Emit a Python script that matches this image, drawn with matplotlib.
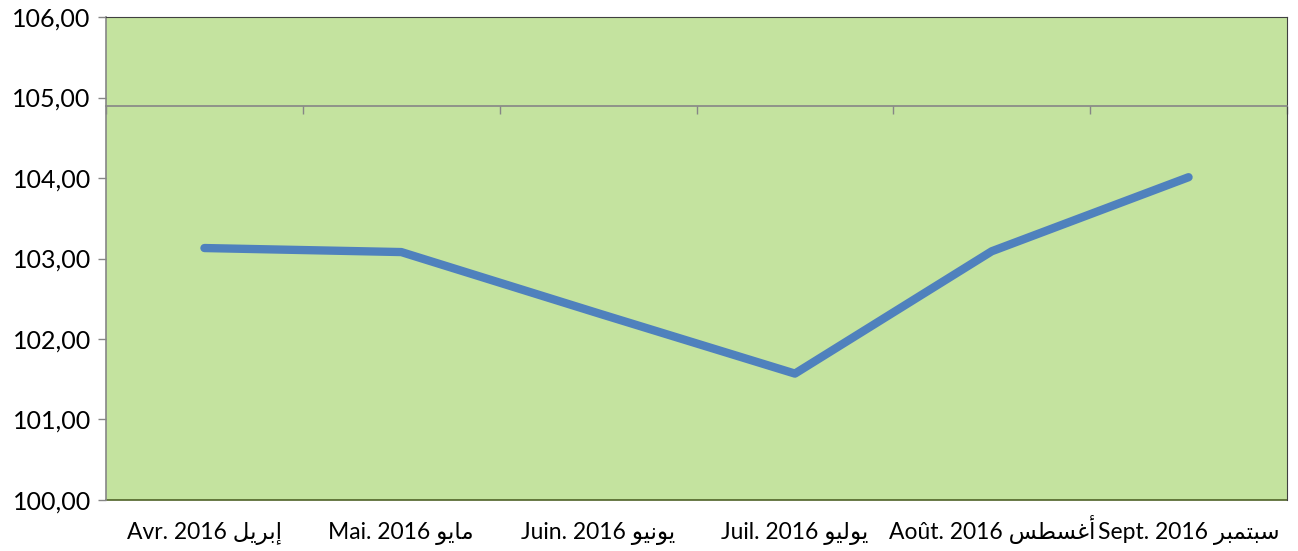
import matplotlib
matplotlib.use("Agg")
import matplotlib.pyplot as plt
from matplotlib.ticker import FuncFormatter, FixedLocator

plt.rcParams['font.family'] = ['Lato', 'DejaVu Sans']

# month labels: French part + Arabic part (presentation forms, visual order)
months_fr = ["Avr. 2016", "Mai. 2016", "Juin. 2016", "Juil. 2016", "Août. 2016", "Sept. 2016"]
months_ar = [
    "\uFEDE\uFEF3\uFEAE\uFE91\uFE87",        # إبريل
    "\uFEEE\uFEF3\uFE8E\uFEE3",              # مايو
    "\uFEEE\uFEF4\uFEE7\uFEEE\uFEF3",        # يونيو
    "\uFEEE\uFEF4\uFEDF\uFEEE\uFEF3",        # يوليو
    "\uFEB2\uFEC4\uFEB4\uFECF\uFE83",        # أغسطس
    "\uFEAE\uFE92\uFEE4\uFE98\uFE92\uFEB3",  # سبتمبر
]
values = [103.13, 103.08, 102.32, 101.57, 103.09, 104.01]

labels = [f"{fr} {ar}" for fr, ar in zip(months_fr, months_ar)]
x = list(range(len(values)))

fig = plt.figure(figsize=(12.98, 5.51), dpi=100)
ax = fig.add_axes([0.0817, 0.0926, 0.9098, 0.8765])
ax.set_facecolor('#C4E39F')

ax.plot(x, values, color='#4F81BD', linewidth=6, solid_capstyle='round',
        solid_joinstyle='round', zorder=3)

ax.set_xlim(-0.5, len(values) - 0.5)
ax.set_ylim(100, 106)
ax.yaxis.set_major_locator(FixedLocator([100, 101, 102, 103, 104, 105, 106]))
ax.yaxis.set_major_formatter(FuncFormatter(lambda v, p: f"{v:.2f}".replace('.', ',')))
ax.tick_params(axis='y', direction='out', length=6, width=1, color='#868686',
               labelsize=18, labelcolor='black', pad=5)

# horizontal category axis crossing at 104.9, ticks between categories
ax.spines['bottom'].set_position(('data', 104.9))
ax.spines['bottom'].set_color('#868686')
ax.spines['bottom'].set_linewidth(1.2)
ax.set_xticks([i - 0.5 for i in range(len(values) + 1)])
ax.tick_params(axis='x', direction='out', length=6, width=1, color='#868686',
               labelbottom=False)

ax.spines['left'].set_color('#868686')
ax.spines['left'].set_linewidth(1.2)
ax.spines['top'].set_color('#404040')
ax.spines['top'].set_linewidth(0.8)
ax.spines['right'].set_color('#404040')
ax.spines['right'].set_linewidth(0.8)

# category labels along the bottom of the plot frame
sec = ax.secondary_xaxis('bottom')
sec.set_xticks(x)
sec.set_xticklabels(labels, fontsize=16.5, va='baseline')
sec.tick_params(axis='x', length=0, pad=28)
sec.spines['bottom'].set_color('#4F6228')
sec.spines['bottom'].set_linewidth(1.2)

fig.savefig("out.png", dpi=100)
